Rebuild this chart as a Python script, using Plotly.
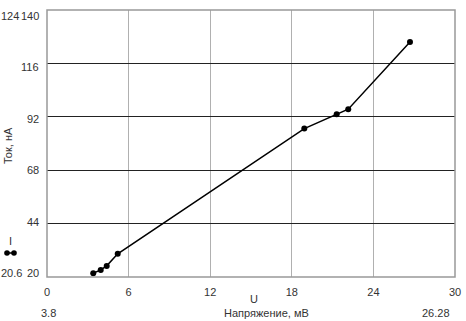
import plotly.graph_objects as go

# data
u_values = [3.40, 3.95, 4.39, 5.20, 18.92, 21.30, 22.15, 26.69]
i_values = [21.7, 23.2, 25.0, 30.4, 86.7, 93.2, 95.4, 125.6]
x_ticks = [0, 6, 12, 18, 24, 30]
y_ticks = [20, 44, 68, 92, 116, 140]
x_min_label, x_max_label = "3.8", "26.28"
y_min_label, y_max_label = "20.6", "124"
x_title_sym, x_title = "U", "Напряжение, мВ"
y_title_sym, y_title = "I", "Ток, нА"

W, H = 466, 321
ML, MR, MT, MB = 47, 11, 10, 44
PW, PH = W - ML - MR, H - MT - MB


def px(x):
    return (x - ML) / PW


def py(y):
    return (H - MB - y) / PH


FONT = "Liberation Sans, Arial, sans-serif"
TXT = "#333333"

fig = go.Figure()
fig.add_trace(go.Scatter(
    x=u_values, y=i_values, mode="lines+markers",
    line=dict(color="black", width=1.5),
    marker=dict(color="black", size=6),
    showlegend=False, hoverinfo="skip", cliponaxis=False))

fig.update_layout(
    width=W, height=H, autosize=False,
    margin=dict(l=ML, r=MR, t=MT, b=MB, autoexpand=False),
    paper_bgcolor="white", plot_bgcolor="white",
    font=dict(family=FONT, size=11, color=TXT),
    xaxis=dict(range=[0, 30], tickvals=x_ticks, ticktext=[str(v) for v in x_ticks],
               showgrid=True, gridcolor="#b0b0b0", gridwidth=1,
               showline=False, zeroline=False, ticks="", ticklabelstandoff=7,
               automargin=False, fixedrange=True),
    yaxis=dict(range=[20, 140], tickvals=y_ticks, showticklabels=False,
               showgrid=True, gridcolor="#222222", gridwidth=1,
               showline=False, zeroline=False, ticks="",
               automargin=False, fixedrange=True),
)

ann = []
# y tick labels: in the original they sit on a slightly compressed scale
# (top label a bit below its grid line, bottom label a bit above)
for v in y_ticks:
    ann.append(dict(x=0, xref="paper", xshift=-6, xanchor="right",
                    y=v, yref="y", yshift=-(v - 68) / 12.0, yanchor="middle", text=str(v)))
extra = [
    dict(x=px(10), y=py(16), text=y_max_label),
    dict(x=px(11), y=py(273), text=y_min_label),
    dict(x=px(48), y=py(313), text=x_min_label),
    dict(x=px(436), y=py(313), text=x_max_label),
    dict(x=px(254), y=py(299), text=x_title_sym),
    dict(x=px(266), y=py(313), text=x_title),
    dict(x=px(10), y=py(241), text=y_title_sym),
    dict(x=px(8), y=py(146), text=y_title, textangle=-90),
]
for a in extra:
    a.update(xref="paper", yref="paper", xanchor="center", yanchor="middle")
ann += extra
for a in ann:
    a.update(showarrow=False, font=dict(family=FONT, size=11, color=TXT))
fig.update_layout(annotations=ann)

# gray frame around the plot area
shapes = [dict(type="rect", xref="paper", yref="paper", x0=0, x1=1, y0=0, y1=1,
               line=dict(color="#999999", width=1.5), layer="above")]
# small legend glyph for series I (two dots joined by a line)
shapes.append(dict(type="line", xref="paper", yref="paper", x0=px(7), x1=px(14),
                   y0=py(253), y1=py(253), line=dict(color="black", width=1.5)))
for cx in (7, 14):
    shapes.append(dict(type="circle", xref="paper", yref="paper",
                       x0=px(cx - 2.8), x1=px(cx + 2.8), y0=py(253 + 2.8), y1=py(253 - 2.8),
                       fillcolor="black", line=dict(color="black", width=0)))
fig.update_layout(shapes=shapes)

fig.write_html("out.html", config={"displayModeBar": False},
               post_script="document.body.style.margin='0';")
